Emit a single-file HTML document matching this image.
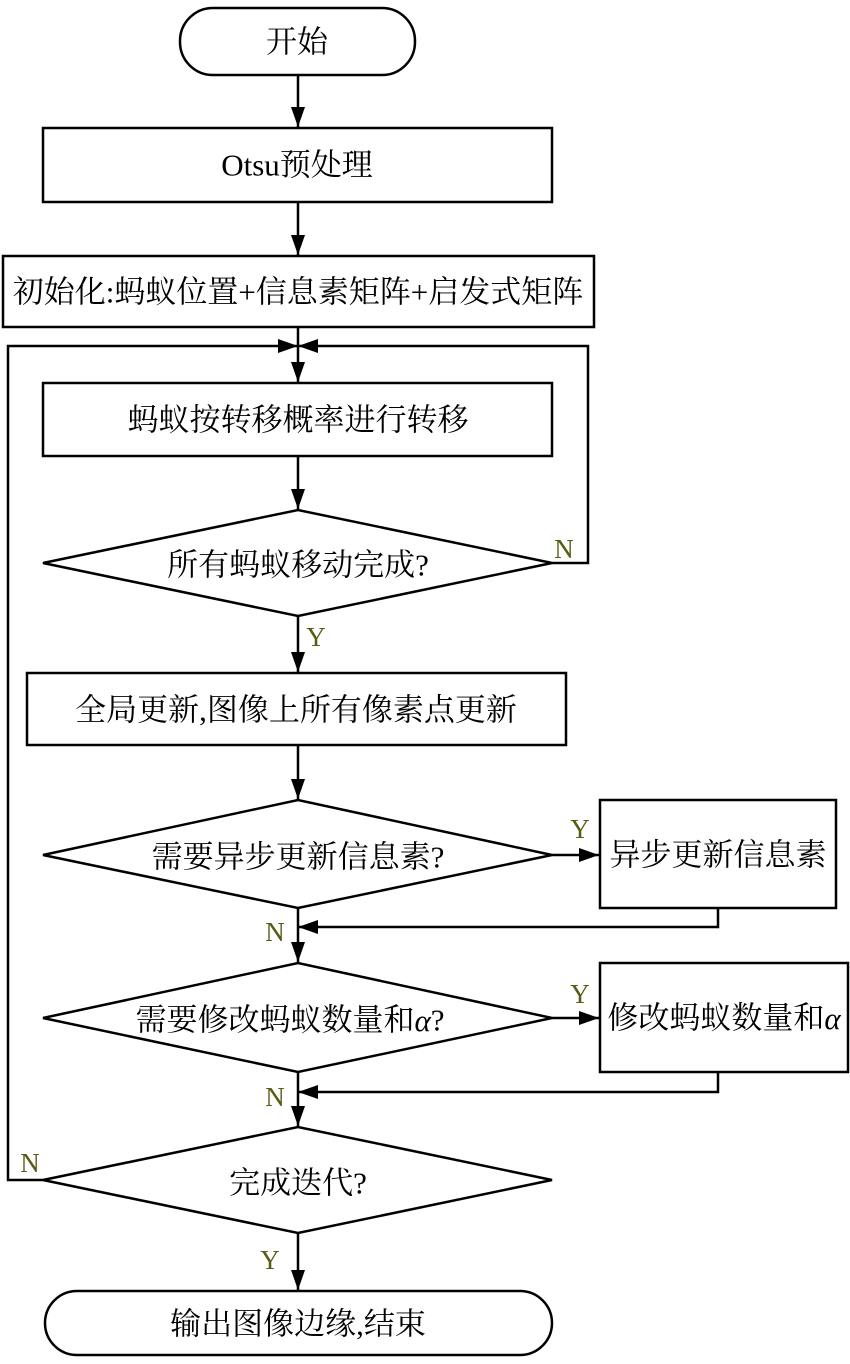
<!DOCTYPE html>
<html><head><meta charset="utf-8"><style>
html,body{margin:0;padding:0;background:#fff;}
svg{display:block;}
text{font-family:"Liberation Serif","Noto Serif CJK SC","Noto Sans CJK SC",serif;font-size:31px;fill:#000;}
.l{fill:#5b5b16;font-size:27px;}
</style></head><body>
<svg width="850" height="1364" viewBox="0 0 850 1364" xmlns="http://www.w3.org/2000/svg">
<defs>
<marker id="b" markerWidth="20" markerHeight="14" refX="20" refY="7" orient="auto" markerUnits="userSpaceOnUse" viewBox="0 0 20 14"><path d="M0,0 L20,7 L0,14z" fill="#000"/></marker></defs>
<g fill="none" stroke="#000" stroke-width="2.5">
<rect x="180" y="8" width="235" height="67" rx="33" ry="33"/>
<rect x="43" y="128" width="509" height="74"/>
<rect x="3" y="256" width="591" height="71"/>
<rect x="43" y="383" width="509" height="73"/>
<polygon points="43,563 298,510 552,563 298,616"/>
<rect x="27" y="673" width="539" height="72"/>
<polygon points="43,855 298,800 552,855 298,908"/>
<rect x="600" y="800" width="236" height="108"/>
<polygon points="43,1018 298,963 552,1018 298,1072"/>
<rect x="600" y="963" width="248" height="109"/>
<polygon points="43,1180 298,1127 552,1180 298,1233"/>
<rect x="45" y="1291" width="507" height="64" rx="32" ry="32"/>
<line x1="298" y1="75" x2="298" y2="127" marker-end="url(#b)"/>
<line x1="298" y1="202" x2="298" y2="255" marker-end="url(#b)"/>
<line x1="298" y1="327" x2="298" y2="382" marker-end="url(#b)"/>
<line x1="298" y1="456" x2="298" y2="509" marker-end="url(#b)"/>
<line x1="298" y1="616" x2="298" y2="672" marker-end="url(#b)"/>
<line x1="298" y1="745" x2="298" y2="799" marker-end="url(#b)"/>
<line x1="298" y1="908" x2="298" y2="962" marker-end="url(#b)"/>
<line x1="298" y1="1072" x2="298" y2="1126" marker-end="url(#b)"/>
<line x1="298" y1="1233" x2="298" y2="1290" marker-end="url(#b)"/>
<polyline points="43,1180 8,1180 8,346 298,346" marker-end="url(#b)"/>
<polyline points="552,563 588,563 588,346 298,346" marker-end="url(#b)"/>
<line x1="552" y1="855" x2="599" y2="855" marker-end="url(#b)"/>
<line x1="552" y1="1018" x2="599" y2="1018" marker-end="url(#b)"/>
<polyline points="718,908 718,927 298,927" marker-end="url(#b)"/>
<polyline points="718,1072 718,1092 298,1092" marker-end="url(#b)"/>
</g>
<g text-anchor="middle" dominant-baseline="central">
<text x="297" y="42">开始</text>
<text x="297" y="165">Otsu预处理</text>
<text x="298" y="292">初始化:蚂蚁位置+信息素矩阵+启发式矩阵</text>
<text x="298" y="420">蚂蚁按转移概率进行转移</text>
<text x="298" y="565">所有蚂蚁移动完成?</text>
<text x="296" y="710">全局更新,图像上所有像素点更新</text>
<text x="298" y="857">需要异步更新信息素?</text>
<text x="718" y="855">异步更新信息素</text>
<text x="290" y="1020">需要修改蚂蚁数量和<tspan font-style="italic">α</tspan>?</text>
<text x="724" y="1018">修改蚂蚁数量和<tspan font-style="italic">α</tspan></text>
<text x="298" y="1183">完成迭代?</text>
<text x="298" y="1324">输出图像边缘,结束</text>
<text class="l" x="564" y="549">N</text>
<text class="l" x="316" y="637">Y</text>
<text class="l" x="580" y="829">Y</text>
<text class="l" x="275" y="932">N</text>
<text class="l" x="580" y="994">Y</text>
<text class="l" x="275" y="1097">N</text>
<text class="l" x="30" y="1163">N</text>
<text class="l" x="270" y="1260">Y</text>
</g>
</svg>
</body></html>
